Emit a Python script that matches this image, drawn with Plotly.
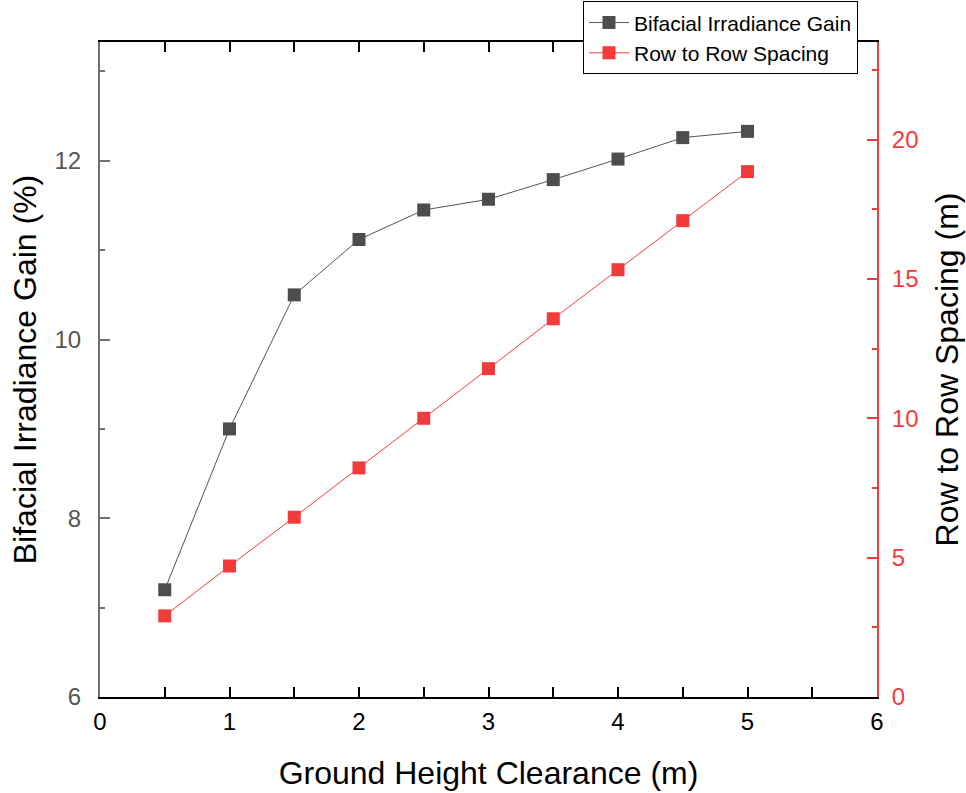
import plotly.graph_objects as go

# Ground height clearance (m)
height = [0.5, 1.0, 1.5, 2.0, 2.5, 3.0, 3.5, 4.0, 4.5, 5.0]
# Bifacial irradiance gain (%)
gain = [7.2, 9.0, 10.5, 11.12, 11.45, 11.57, 11.79, 12.02, 12.26, 12.33]
# Row to row spacing (m)
spacing = [2.91, 4.70, 6.45, 8.22, 10.0, 11.78, 13.57, 15.33, 17.09, 18.85]

GREY = "#4d4d4d"
RED = "#f23c3c"
FONT = "Liberation Sans, Arial, sans-serif"

fig = go.Figure()
fig.add_trace(go.Scatter(
    x=height, y=gain, name="Bifacial Irradiance Gain", mode="lines+markers",
    line=dict(color="#555555", width=1),
    marker=dict(symbol="square", size=13, color=GREY),
))
fig.add_trace(go.Scatter(
    x=height, y=spacing, name="Row to Row Spacing", mode="lines+markers",
    yaxis="y2", line=dict(color=RED, width=1),
    marker=dict(symbol="square", size=13, color=RED),
))

fig.update_layout(
    width=966, height=793,
    margin=dict(l=100, r=89, t=42, b=96, autoexpand=False),
    plot_bgcolor="white", paper_bgcolor="white",
    font=dict(family=FONT, color="black"),
    showlegend=True,
    legend=dict(
        x=0.6216, y=1.062, xanchor="left", yanchor="top",
        bordercolor="black", borderwidth=1, bgcolor="white",
        font=dict(size=21, family=FONT), tracegroupgap=0,
        itemwidth=40,
    ),
    xaxis=dict(
        range=[0, 6], tickvals=[0, 1, 2, 3, 4, 5, 6],
        showline=True, linecolor="black", linewidth=2, mirror="allticks",
        ticks="inside", ticklen=10, tickwidth=2, tickcolor="black",
        minor=dict(ticks="inside", ticklen=5, tickwidth=2, dtick=0.5, tickcolor="black"),
        showgrid=False, zeroline=False,
        tickfont=dict(size=24, color="black"), ticklabelstandoff=2,
        title=dict(text="Ground Height Clearance (m)", font=dict(size=32), standoff=28),
    ),
    yaxis=dict(
        range=[6, 13.33], tickvals=[6, 8, 10, 12],
        showline=True, linecolor="#707070", linewidth=2,
        ticks="inside", ticklen=10, tickwidth=2, tickcolor="#707070",
        minor=dict(ticks="inside", ticklen=5, tickwidth=2, dtick=1, tickcolor="#707070"),
        showgrid=False, zeroline=False,
        tickfont=dict(size=24, color="#555555"), ticklabelstandoff=12,
        title=dict(text="Bifacial Irradiance Gain (%)", font=dict(size=32), standoff=8),
    ),
    yaxis2=dict(
        overlaying="y", side="right", anchor="x",
        range=[0, 23.5], tickvals=[0, 5, 10, 15, 20],
        showline=True, linecolor=RED, linewidth=2,
        ticks="inside", ticklen=10, tickwidth=2, tickcolor=RED,
        minor=dict(ticks="inside", ticklen=5, tickwidth=2, dtick=2.5, tickcolor=RED),
        showgrid=False, zeroline=False,
        tickfont=dict(size=24, color=RED), ticklabelstandoff=8,
        title=dict(text="Row to Row Spacing (m)", font=dict(size=32, color="black"), standoff=18),
    ),
)

fig.write_html("out.html")
